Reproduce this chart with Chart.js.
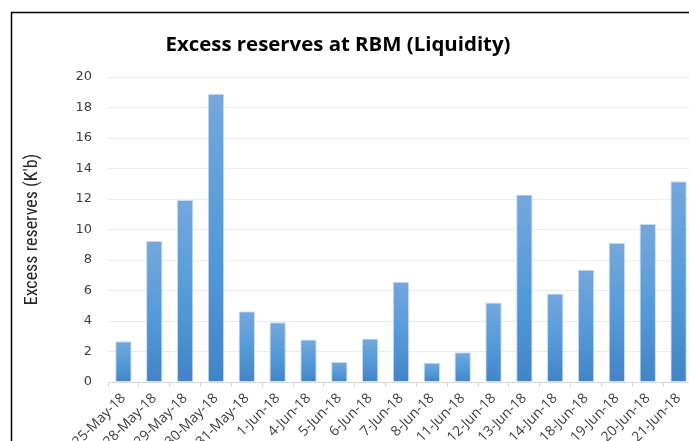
<!DOCTYPE html>
<html>
<head>
<meta charset="utf-8">
<script src="https://cdn.jsdelivr.net/npm/chart.js@4/dist/chart.umd.min.js"></script>
<style>
  html, body { margin: 0; padding: 0; background: #fff; overflow: hidden; }
  #wrap { width: 694px; height: 441px; }
</style>
</head>
<body>
<div id="wrap"><canvas id="c" width="694" height="441"></canvas></div>
<script>
const chartTitle = "Excess reserves at RBM (Liquidity)";
const yAxisTitle = "Excess reserves (K'b)";
const categories = ["25-May-18","28-May-18","29-May-18","30-May-18","31-May-18","1-Jun-18","4-Jun-18","5-Jun-18","6-Jun-18","7-Jun-18","8-Jun-18","11-Jun-18","12-Jun-18","13-Jun-18","14-Jun-18","18-Jun-18","19-Jun-18","20-Jun-18","21-Jun-18"];
const reserves = [2.67, 9.24, 11.94, 18.9, 4.64, 3.92, 2.78, 1.31, 2.85, 6.57, 1.27, 1.95, 5.22, 12.29, 5.81, 7.36, 9.11, 10.36, 13.17];
const yTicks = { min: 0, max: 20, step: 2 };

const framePlugin = {
  id: 'frame',
  beforeDraw(chart) {
    const ctx = chart.ctx;
    ctx.save();
    ctx.fillStyle = '#fff';
    ctx.fillRect(0, 0, chart.width, chart.height);
    ctx.strokeStyle = '#000';
    ctx.lineWidth = 1.5;
    ctx.beginPath();
    ctx.moveTo(11.5, chart.height + 5);
    ctx.lineTo(11.5, 12.5);
    ctx.lineTo(chart.width + 5, 12.5);
    ctx.stroke();
    ctx.restore();
  },
  afterDraw(chart) {
    const ctx = chart.ctx;
    ctx.save();
    ctx.fillStyle = '#000';
    ctx.font = 'bold 20.4px "Open Sans", sans-serif';
    ctx.textAlign = 'center';
    ctx.textBaseline = 'middle';
    ctx.fillText(chartTitle, 338, 45);
    ctx.restore();
  }
};

function barGradient(context) {
  const chart = context.chart;
  const area = chart.chartArea;
  if (!area) return '#5b9bd5';
  const v = context.raw;
  const yScale = chart.scales.y;
  const top = yScale.getPixelForValue(v);
  const bottom = yScale.getPixelForValue(0);
  const g = chart.ctx.createLinearGradient(0, top, 0, bottom);
  g.addColorStop(0, '#75a7dc');
  g.addColorStop(0.5, '#569bd9');
  g.addColorStop(1, '#4285c7');
  return g;
}

new Chart(document.getElementById('c'), {
  type: 'bar',
  data: {
    labels: categories,
    datasets: [{
      data: reserves,
      backgroundColor: barGradient,
      borderColor: '#c5dbf2',
      borderWidth: 1,
      barPercentage: 0.53,
      categoryPercentage: 1
    }]
  },
  plugins: [framePlugin],
  options: {
    responsive: false,
    animation: false,
    layout: { padding: { top: 77, left: 0, right: 0, bottom: 0 } },
    plugins: { legend: { display: false }, tooltip: { enabled: false }, title: { display: false } },
    scales: {
      x: {
        afterFit(scale) { scale.height = 59; },
        grid: { display: true, drawOnChartArea: false, drawTicks: true, tickLength: 5, color: '#d9d9d9', offset: true },
        border: { display: true, color: '#d9d9d9' },
        ticks: {
          autoSkip: false, maxRotation: 45, minRotation: 45, padding: 3,
          color: '#404040', font: { family: '"Open Sans", sans-serif', size: 14 }
        }
      },
      y: {
        min: yTicks.min, max: yTicks.max,
        afterFit(scale) { scale.width = 108; },
        grid: { color: '#ebebeb', drawTicks: false, lineWidth: 1 },
        border: { display: false },
        ticks: {
          stepSize: yTicks.step, padding: 16,
          color: '#404040', font: { family: '"DejaVu Sans", sans-serif', size: 13 }
        },
        title: {
          display: true, text: yAxisTitle, color: '#262626',
          padding: { top: 22, bottom: 0 },
          font: { family: '"Liberation Sans Narrow", "Roboto Condensed", "Open Sans", sans-serif', size: 18 }
        }
      }
    }
  }
});
</script>
</body>
</html>
